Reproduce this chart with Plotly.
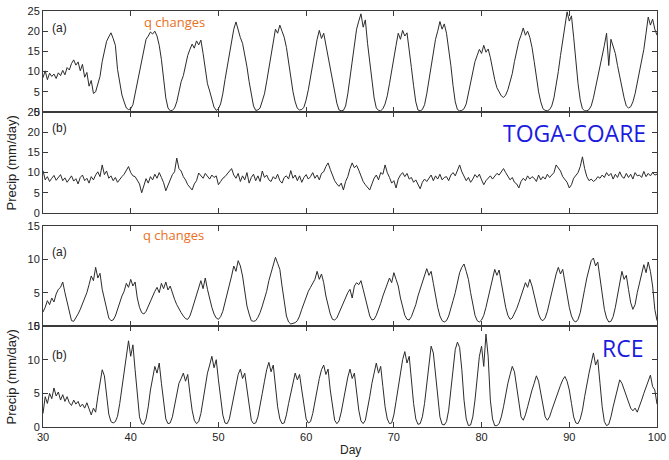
import plotly.graph_objects as go

# ---------------- data (0.25-day steps) ----------------
day_start = 30.0
day_step = 0.25

toga_a = [
    8.5, 10.2, 8.0, 9.6,   8.8, 9.4, 8.3, 9.7,   9.0, 10.3, 9.2, 11.0,
    10.4, 12.0, 12.9, 11.6,   12.4, 10.2, 11.8, 8.6,   9.8, 6.4, 7.8, 4.6,
    5.0, 6.8, 8.8, 12.5,   15.0, 17.5, 18.6, 19.6,   18.2, 16.5, 10.5, 7.0,
    4.2, 2.5, 1.0, 0.6,   0.8, 1.8, 4.5, 7.5,   10.5, 13.5, 16.2, 18.0,
    18.8, 19.8, 19.3, 20.0,   18.8, 16.5, 13.0, 7.5,   3.5, 1.0, 0.3, 0.4,
    1.0, 2.5, 5.0, 7.5,   9.0, 11.5, 14.0, 15.5,   16.8, 15.8, 17.6, 16.6,
    17.8, 14.5, 10.5, 7.0,   5.2, 3.0, 1.2, 0.4,   0.8, 2.0, 4.5, 8.0,
    11.0, 14.5, 18.0, 20.5,   22.3, 20.2, 18.4, 17.0,   14.5, 11.2, 7.5, 4.0,
    1.5, 0.4, 0.5, 1.0,   2.5, 4.5, 7.5, 10.5,   14.0, 17.0, 20.5, 19.5,
    21.5, 20.0, 18.5, 16.0,   12.0, 8.5, 5.0, 2.5,   0.9, 0.5, 0.6, 1.2,
    3.0, 5.5, 8.7, 12.5,   15.5, 18.0, 20.2, 18.2,   19.5, 16.5, 14.0, 10.5,
    8.2, 5.0, 2.2, 0.5,   0.3, 0.4, 1.5, 4.5,   8.5, 13.0, 17.0, 20.5,
    22.5, 24.3, 21.0, 22.8,   17.0, 12.0, 7.5, 3.5,   1.0, 0.4, 0.3, 0.8,
    2.0, 4.0, 7.0, 10.5,   14.0, 16.5, 19.5, 18.0,   20.2, 18.8, 19.6, 14.5,
    11.0, 6.5, 2.5, 0.5,   0.3, 0.6, 1.8, 4.5,   8.0, 11.5, 15.0, 18.0,
    20.0, 22.4, 20.5, 21.8,   19.5, 16.0, 11.5, 6.5,   2.5, 0.6, 0.3, 0.4,
    0.8, 2.0, 4.5, 7.5,   10.0, 12.5, 14.0, 15.5,   14.5, 16.5, 14.8, 15.6,
    13.5, 10.5, 8.0, 6.0,   4.8, 4.0, 3.6, 4.2,   5.5, 7.5, 9.5, 12.5,
    15.0, 17.5, 19.0, 20.8,   19.0, 20.0, 18.5, 16.0,   12.5, 8.5, 5.0, 2.5,
    0.8, 0.4, 0.3, 0.6,   1.5, 3.5, 6.5, 10.0,   14.0, 17.5, 21.5, 24.8,
    22.5, 23.8, 18.5, 12.5,   7.0, 3.0, 0.8, 0.3,   0.3, 0.6, 1.5, 3.5,
    6.0, 8.5, 11.5, 14.0,   16.5, 19.5, 11.5, 18.0,   16.0, 14.5, 11.5, 8.5,
    6.0, 3.5, 1.5, 1.0,   1.3, 2.5, 4.5, 7.2,   10.0, 12.5, 15.5, 19.5,
    23.5, 21.5, 23.0, 20.5,
    19.0,
]

toga_b = [
    10.5, 8.2, 9.0, 7.8,   8.6, 9.3, 8.1, 8.8,   9.5, 8.0, 8.7, 7.6,
    8.4, 9.2, 7.9, 8.5,   7.2, 8.8, 9.4, 8.0,   8.6, 7.4, 9.0, 8.2,
    9.4, 10.2, 9.0, 11.9,   9.5, 10.4, 8.6, 9.2,   8.0, 8.8, 7.6, 8.4,
    9.0, 9.6, 10.4, 11.5,   10.0, 9.2, 9.0, 8.0,   7.2, 5.0, 6.8, 8.5,
    7.4, 9.0, 8.2, 9.6,   8.6, 10.0, 8.8, 7.5,   5.5, 7.0, 8.2, 9.5,
    10.2, 13.6, 11.0, 10.4,   9.0, 8.2, 7.0, 6.4,   5.7, 7.2, 8.0, 9.9,
    9.2, 8.6, 9.8, 9.0,   8.4, 9.4, 8.8, 9.2,   7.0, 7.8, 8.6, 9.0,
    9.6, 10.2, 11.0, 9.4,   8.6, 9.8, 7.8, 9.2,   8.2, 10.0, 7.4, 8.8,
    9.6, 8.0, 9.2, 7.8,   10.4, 8.8, 9.4, 8.2,   7.8, 9.0, 8.4, 9.6,
    8.0, 7.4, 8.8, 9.2,   8.4, 10.5, 8.6, 9.4,   8.0, 9.2, 7.6, 8.8,
    9.5, 8.4, 9.0, 10.0,   8.6, 9.4, 8.2, 9.8,   10.2, 11.5, 12.4, 10.8,
    9.4, 8.0, 7.2, 6.6,   7.4, 5.7, 7.8, 9.0,   11.0, 12.4, 11.2, 11.8,
    10.6, 9.0, 7.8, 7.0,   6.4, 5.7, 7.2, 8.6,   9.4, 8.2, 10.0, 9.6,
    11.9, 10.0, 8.8, 7.4,   8.0, 6.2, 8.4, 9.4,   10.0, 9.0, 9.8, 8.4,
    8.8, 7.6, 8.2, 7.0,   6.0, 7.6, 8.4, 7.8,   8.6, 9.4, 8.0, 9.2,
    8.4, 9.6, 8.2, 8.8,   9.0, 8.0, 9.4, 10.0,   9.2, 10.4, 11.9, 10.2,
    9.0, 8.0, 8.8, 7.6,   8.4, 9.5, 8.8, 9.6,   8.2, 7.0, 8.0, 8.6,
    9.2, 8.4, 9.0, 9.8,   9.4, 10.2, 11.0, 10.0,   9.0, 8.2, 8.8, 7.6,
    7.2, 6.2, 7.8, 8.6,   8.0, 9.2, 8.4, 9.0,   8.6, 7.8, 9.4, 8.2,
    9.0, 8.4, 9.6, 8.8,   9.4, 10.0, 11.9, 11.0,   10.4, 9.0, 8.4, 7.6,
    6.2, 7.0, 8.6, 9.2,   10.0, 11.5, 13.9, 11.0,   9.0, 8.0, 8.4, 7.8,
    8.2, 9.0, 8.6, 9.4,   8.8, 10.0, 9.2, 9.8,   8.4, 9.6, 8.8, 10.2,
    9.0, 8.6, 9.8, 8.8,   9.6, 8.4, 10.0, 9.2,   9.4, 8.8, 10.3, 9.0,
    9.8, 9.2, 10.0, 9.4,
    9.6,
]

rce_a = [
    2.1, 2.8, 3.8, 3.2,   4.2, 3.6, 4.8, 5.5,   5.8, 6.6, 5.0, 3.5,
    1.8, 0.8, 0.7, 1.2,   1.8, 2.5, 3.3, 4.2,   5.0, 6.2, 7.5, 6.8,
    8.8, 7.2, 7.9, 5.5,   4.0, 2.5, 1.2, 0.8,   0.9, 1.5, 2.5, 3.6,
    4.5, 5.2, 6.4, 5.8,   7.0, 6.0, 6.6, 4.2,   2.8, 2.0, 1.8, 2.2,
    3.0, 3.8, 4.6, 5.2,   5.8, 5.0, 6.4, 5.6,   6.6, 5.4, 6.0, 4.8,
    4.0, 3.2, 2.5, 2.0,   1.5, 1.1, 1.0, 1.5,   2.5, 3.5, 4.5, 5.8,
    6.8, 5.6, 7.2, 5.5,   4.0, 2.8, 1.8, 1.2,   1.0, 1.4, 2.2, 3.5,
    4.5, 5.8, 7.5, 9.0,   8.2, 9.8, 9.0, 7.5,   5.0, 3.0, 1.8, 0.8,
    0.7, 0.8, 1.3, 2.0,   3.0, 4.0, 5.2, 6.8,   8.0, 9.5, 10.3, 9.4,
    8.5, 6.0, 3.5, 1.5,   0.6, 0.3, 0.4, 0.5,   0.8, 1.5, 2.5, 3.5,
    4.5, 5.2, 5.8, 6.5,   7.0, 8.2, 7.0, 7.8,   6.5, 4.5, 3.0, 1.8,
    1.0, 0.9, 1.2, 2.0,   2.8, 3.6, 4.2, 5.0,   5.5, 4.2, 6.0, 6.5,
    6.2, 6.8, 5.5, 4.0,   2.5, 1.5, 0.9, 1.0,   1.6, 2.4, 3.4, 4.5,
    5.5, 6.4, 7.2, 6.5,   8.0, 7.0, 6.0, 4.2,   2.8, 1.6, 1.0, 0.9,
    1.4, 2.2, 3.2, 4.5,   5.5, 6.8, 7.5, 8.6,   7.6, 8.2, 6.4, 4.5,
    2.8, 1.5, 0.8, 0.6,   0.8, 1.5, 2.5, 3.8,   5.0, 6.5, 8.0, 8.8,
    9.3, 8.2, 7.0, 5.0,   3.0, 1.6, 0.8, 0.6,   0.9, 1.6, 2.8, 4.2,
    5.8, 7.0, 8.5, 7.6,   8.4, 6.5, 4.5, 2.8,   1.6, 1.0, 1.2, 1.8,
    2.6, 3.5, 4.6, 5.5,   6.5, 5.8, 7.0, 6.0,   4.5, 3.0, 1.8, 1.0,
    0.8, 1.2, 2.2, 3.6,   5.0, 6.5, 7.8, 8.8,   7.8, 8.5, 6.5, 4.5,
    2.8, 1.5, 0.8, 0.6,   1.0, 2.0, 3.5, 5.5,   7.2, 8.5, 9.8, 10.2,
    9.0, 9.6, 7.0, 4.5,   2.5, 1.2, 0.6, 0.7,   1.4, 2.8, 4.5, 6.5,
    8.2, 7.0, 7.6, 5.5,   3.5, 2.5, 3.2, 5.0,   6.5, 8.0, 9.2, 8.0,
    9.6, 8.2, 6.0, 2.5,
    0.8,
]

rce_b = [
    2.0, 4.5, 3.5, 5.0,   4.2, 5.8, 4.6, 5.2,   4.0, 4.8, 3.8, 4.5,
    3.6, 3.2, 4.0, 3.4,   3.8, 3.0, 3.4, 2.8,   3.6, 2.6, 1.8, 2.8,
    2.2, 4.5, 6.5, 8.5,   7.6, 5.0, 1.9, 0.8,   0.6, 0.8, 1.6, 3.5,
    6.0, 8.5, 11.0, 12.8,   10.5, 12.2, 8.5, 4.5,   1.5, 0.5, 0.4, 1.2,
    3.0, 5.5, 7.5, 9.0,   8.0, 9.5, 6.5, 3.5,   1.2, 0.5, 0.6, 1.5,
    3.0, 4.8, 6.5, 7.2,   8.0, 6.8, 7.8, 5.0,   2.5, 1.0, 0.5, 0.8,
    2.0, 4.0, 6.0, 8.0,   9.2, 10.5, 8.8, 10.0,   7.0, 4.0, 1.8, 0.6,
    0.5, 1.2, 2.8, 4.8,   6.5, 7.8, 8.6, 7.2,   8.0, 5.5, 2.8, 1.0,
    0.5, 0.6, 1.5, 3.0,   5.0, 6.8, 8.5, 9.6,   8.2, 9.2, 6.0, 3.0,
    1.2, 0.5, 0.6, 1.8,   3.5, 5.0, 6.5, 8.0,   7.0, 7.8, 5.5, 3.0,
    1.2, 0.6, 0.8, 2.0,   3.8, 5.5, 7.2, 8.5,   9.2, 7.8, 8.6, 5.5,
    2.8, 1.0, 0.5, 0.9,   2.2, 4.0, 5.8, 7.4,   8.6, 7.2, 8.0, 5.0,
    2.5, 0.9, 0.5, 1.0,   2.5, 4.5, 6.5, 8.2,   9.5, 8.0, 9.0, 6.0,
    3.0, 1.2, 0.5, 0.6,   1.8, 3.8, 6.0, 8.5,   10.0, 11.2, 9.5, 10.5,
    7.0, 3.5, 1.2, 0.4,   0.5, 1.5, 3.5, 6.5,   9.5, 12.0, 11.0, 8.0,
    4.5, 1.5, 0.4, 0.3,   0.8, 2.5, 5.5, 9.0,   11.5, 12.6, 11.8, 8.5,
    4.0, 1.2, 0.2, 0.3,   1.5, 4.0, 7.5, 10.5,   12.0, 9.0, 13.8, 10.5,
    4.0, 1.2, 0.2, 0.2,   0.5, 1.5, 3.0, 5.0,   6.5, 7.8, 9.0, 8.2,
    6.0, 3.5, 1.5, 1.0,   1.8, 3.0, 4.5, 5.5,   6.5, 7.6, 6.8, 5.0,
    3.0, 1.5, 1.0, 1.5,   2.5, 3.5, 4.5, 5.5,   6.2, 7.0, 7.5, 6.8,
    5.5, 3.5, 1.5, 0.6,   0.5, 1.2, 2.5, 4.5,   6.5, 8.0, 9.5, 11.0,
    9.2, 10.0, 6.5, 3.0,   0.8, 0.2, 0.4, 1.5,   3.0, 4.5, 6.0, 7.0,
    6.5, 5.5, 4.5, 3.5,   2.8, 2.4, 2.8, 2.2,   3.0, 4.0, 5.0, 6.0,
    6.8, 7.7, 6.0, 5.5,
    3.4,
]

x_ticks = [30, 40, 50, 60, 70, 80, 90, 100]
toga_yticks = [0, 5, 10, 15, 20, 25]
rce_yticks = [0, 5, 10, 15]

panel_labels = ["(a)", "(b)", "(a)", "(b)"]
case_names = ["TOGA-COARE", "RCE"]
note_text = "q changes"
y_title = "Precip (mm/day)"
x_title = "Day"

# ---------------- figure ----------------
def day_axis(n):
    return [day_start + day_step * i for i in range(n)]

series = [toga_a, toga_b, rce_a, rce_b]
fig = go.Figure()
for i, s in enumerate(series):
    idx = "" if i == 0 else str(i + 1)
    fig.add_trace(go.Scatter(
        x=day_axis(len(s)), y=s, mode="lines",
        line=dict(color="#2b2b2b", width=1),
        xaxis="x" + idx, yaxis="y" + idx, showlegend=False,
        hoverinfo="skip",
    ))

axcol = "#3a3a3a"
tickfont = dict(family="Liberation Sans, Arial, sans-serif", size=11, color="#222")
domains = [[0.7572, 1.0], [0.5144, 0.7572], [0.2428, 0.4832], [0.0, 0.2428]]
yranges = [[0, 25], [0, 25], [0, 15], [0, 15]]
yticks = [toga_yticks, toga_yticks, rce_yticks, rce_yticks]

layout = dict(
    width=669, height=460,
    margin=dict(l=43, r=12, t=11, b=33, pad=0, autoexpand=False),
    paper_bgcolor="white", plot_bgcolor="white",
    font=dict(family="Liberation Sans, Arial, sans-serif", size=11, color="#222"),
    showlegend=False,
)
for i in range(4):
    idx = "" if i == 0 else str(i + 1)
    layout["xaxis" + idx] = dict(
        domain=[0, 1], range=[30, 100], anchor="y" + idx,
        tickmode="array", tickvals=x_ticks,
        ticks="inside", ticklen=5, tickwidth=1, tickcolor=axcol,
        showline=True, linecolor=axcol, linewidth=1, mirror="ticks",
        showgrid=False, zeroline=False, automargin=False,
        showticklabels=(i == 3), tickfont=tickfont,
    )
    layout["yaxis" + idx] = dict(
        domain=domains[i], range=yranges[i], anchor="x" + idx,
        tickmode="array", tickvals=yticks[i],
        ticks="inside", ticklen=5, tickwidth=1, tickcolor=axcol,
        showline=True, linecolor=axcol, linewidth=1, mirror="ticks",
        showgrid=False, zeroline=False, automargin=False, tickfont=tickfont,
    )
fig.update_layout(**layout)

ann = []
label_y = [20.8, 21.0, 11.1, 10.7]
for i in range(4):
    idx = "" if i == 0 else str(i + 1)
    ann.append(dict(text=panel_labels[i], xref="x" + idx + " domain", yref="y" + idx,
                    x=0.011, y=label_y[i], xanchor="left", yanchor="middle",
                    showarrow=False, font=dict(size=12, color="#222")))
# note text
ann.append(dict(text=note_text, xref="x", yref="y", x=45.0, y=22.3,
                xanchor="center", yanchor="middle", showarrow=False,
                font=dict(family="Open Sans", size=13, color="#e8701e")))
ann.append(dict(text=note_text, xref="x3", yref="y3", x=44.9, y=13.6,
                xanchor="center", yanchor="middle", showarrow=False,
                font=dict(family="Open Sans", size=13, color="#e8701e")))
# case names
ann.append(dict(text=case_names[0], xref="x2 domain", yref="y2", x=0.9853, y=19.8,
                xanchor="right", yanchor="middle", showarrow=False,
                font=dict(family="Open Sans", size=23, color="#1c1ce0")))
ann.append(dict(text=case_names[1], xref="x4 domain", yref="y4", x=0.980, y=11.7,
                xanchor="right", yanchor="middle", showarrow=False,
                font=dict(family="Open Sans", size=23, color="#1c1ce0")))
# axis titles
for yr in ["y2 domain", "y4 domain"]:
    ann.append(dict(text=y_title, xref="paper", yref=yr, x=-0.0505, y=0.5,
                    xanchor="center", yanchor="middle", textangle=-90, showarrow=False,
                    font=dict(size=13, color="#222")))
ann.append(dict(text=x_title, xref="paper", yref="paper", x=0.5, y=-0.0775,
                xanchor="center", yanchor="bottom", showarrow=False,
                font=dict(size=12, color="#222")))
fig.update_layout(annotations=ann)

fig.write_html("out.html")
